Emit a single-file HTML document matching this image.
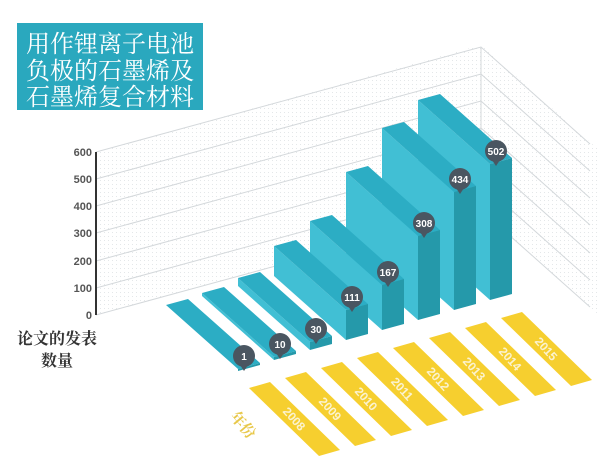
<!DOCTYPE html>
<html><head><meta charset="utf-8"><style>
html,body{margin:0;padding:0;background:#fff;}
svg{display:block;}
</style></head><body>
<svg width="600" height="471" viewBox="0 0 600 471" xmlns="http://www.w3.org/2000/svg">
<defs>
<pattern id="dots" width="4" height="4" patternUnits="userSpaceOnUse"><rect x="0" y="0" width="1" height="1" fill="#d8dde0"/></pattern>
</defs>
<!-- walls -->
<polygon points="96,152 481,45 481,210 96,315" fill="url(#dots)" opacity="0.7"/>
<polygon points="481,45 600,151 600,316 481,210" fill="url(#dots)" opacity="0.7"/>
<g fill="none" stroke="#d4d8db" stroke-width="1">
<polyline points="96,152 481,47 590,144"/>
<polyline points="96,179 481,74 590,171"/>
<polyline points="96,206 481,101 590,198"/>
<polyline points="96,233 481,128 590,225"/>
<polyline points="96,261 481,156 590,253"/>
<polyline points="96,288 481,183 590,280"/>
<polyline points="96,315 481,210 590,307"/>
<line x1="481" y1="47" x2="481" y2="210"/>
</g>
<line x1="96" y1="152" x2="96" y2="315" stroke="#333" stroke-width="2"/>
<g font-family="'Liberation Sans',sans-serif" font-size="11" font-weight="bold" fill="#555" text-anchor="end">
<text x="92" y="156">600</text>
<text x="92" y="183">500</text>
<text x="92" y="210">400</text>
<text x="92" y="237">300</text>
<text x="92" y="265">200</text>
<text x="92" y="292">100</text>
<text x="92" y="319">0</text>
</g>
<!-- bars (back to front) -->
<g>
<polygon points="418,100 490,164 490,300 418,236" fill="#41bfd4"/>
<polygon points="418,100 440,94 512,158 490,164" fill="#2cadc4"/>
<polygon points="490,164 512,158 512,294 490,300" fill="#2599aa"/>

<polygon points="382,128 454,192 454,310 382,246" fill="#41bfd4"/>
<polygon points="382,128 404,122 476,186 454,192" fill="#2cadc4"/>
<polygon points="454,192 476,186 476,304 454,310" fill="#2599aa"/>

<polygon points="346,172 418,236 418,320 346,256" fill="#41bfd4"/>
<polygon points="346,172 368,166 440,230 418,236" fill="#2cadc4"/>
<polygon points="418,236 440,230 440,314 418,320" fill="#2599aa"/>

<polygon points="310,221 382,285 382,330 310,266" fill="#41bfd4"/>
<polygon points="310,221 332,215 404,279 382,285" fill="#2cadc4"/>
<polygon points="382,285 404,279 404,324 382,330" fill="#2599aa"/>

<polygon points="274,246 346,310 346,340 274,276" fill="#41bfd4"/>
<polygon points="274,246 296,240 368,304 346,310" fill="#2cadc4"/>
<polygon points="346,310 368,304 368,334 346,340" fill="#2599aa"/>

<polygon points="238,278 310,342 310,350 238,286" fill="#41bfd4"/>
<polygon points="238,278 260,272 332,336 310,342" fill="#2cadc4"/>
<polygon points="310,342 332,336 332,344 310,350" fill="#2599aa"/>

<polygon points="202,293 274,357 274,360 202,296" fill="#41bfd4"/>
<polygon points="202,293 224,287 296,351 274,357" fill="#2cadc4"/>
<polygon points="274,357 296,351 296,354 274,360" fill="#2599aa"/>

<polygon points="166,305 188,299 260,363 238,369" fill="#2cadc4"/>
<polygon points="238,369 260,363 260,365 238,371" fill="#2599aa"/>
</g>
<!-- pins -->
<g fill="#4a5661">
<circle cx="244" cy="356" r="11"/><polygon points="240,365 248,365 244,371"/>
<circle cx="280" cy="344" r="11"/><polygon points="276,353 284,353 280,359"/>
<circle cx="316" cy="329" r="11"/><polygon points="312,338 320,338 316,344"/>
<circle cx="352" cy="297" r="11"/><polygon points="348,306 356,306 352,312"/>
<circle cx="388" cy="272" r="11"/><polygon points="384,281 392,281 388,287"/>
<circle cx="424" cy="223" r="11"/><polygon points="420,232 428,232 424,238"/>
<circle cx="460" cy="179" r="11"/><polygon points="456,188 464,188 460,194"/>
<circle cx="496" cy="151" r="11"/><polygon points="492,160 500,160 496,166"/>
</g>
<g font-family="'Liberation Sans',sans-serif" font-size="10" font-weight="bold" fill="#fff" text-anchor="middle">
<text x="244" y="360">1</text>
<text x="280" y="348">10</text>
<text x="316" y="333">30</text>
<text x="352" y="301">111</text>
<text x="388" y="276">167</text>
<text x="424" y="227">308</text>
<text x="460" y="183">434</text>
<text x="496" y="155">502</text>
</g>
<!-- year strips -->
<g fill="#f6cf2f">
<polygon points="249,388 270,382 340,450 319,456"/>
<polygon points="285,378 306,372 376,440 355,446"/>
<polygon points="321,368 342,362 412,430 391,436"/>
<polygon points="357,358 378,352 448,420 427,426"/>
<polygon points="393,348 414,342 484,410 463,416"/>
<polygon points="429,338 450,332 520,400 499,406"/>
<polygon points="465,328 486,322 556,390 535,396"/>
<polygon points="501,318 522,312 592,380 571,386"/>
</g>
<g font-family="'Liberation Sans',sans-serif" font-size="12" font-weight="bold" fill="#fbf3d0" text-anchor="middle">
<text transform="translate(294,419) rotate(48)" y="4">2008</text>
<text transform="translate(330,409) rotate(48)" y="4">2009</text>
<text transform="translate(366,399) rotate(48)" y="4">2010</text>
<text transform="translate(402,389) rotate(48)" y="4">2011</text>
<text transform="translate(438,379) rotate(48)" y="4">2012</text>
<text transform="translate(474,369) rotate(48)" y="4">2013</text>
<text transform="translate(510,359) rotate(48)" y="4">2014</text>
<text transform="translate(546,349) rotate(48)" y="4">2015</text>
</g>
<text transform="translate(243,425) rotate(50)" text-anchor="middle" y="5" font-family="'Liberation Serif','Noto Serif CJK SC',serif" font-size="15" font-weight="bold" fill="#e8c84a">年份</text>
<!-- y label -->
<g font-family="'Liberation Serif','Noto Serif CJK SC',serif" font-size="16" font-weight="bold" fill="#333" text-anchor="middle">
<text x="57" y="344">论文的发表</text>
<text x="57" y="366">数量</text>
</g>
<!-- title -->
<rect x="17" y="23" width="186" height="87" fill="#2aa8be"/>
<g font-family="'Liberation Serif','Noto Serif CJK SC',serif" font-size="24" fill="#fff" text-anchor="middle">
<text x="110" y="52">用作锂离子电池</text>
<text x="110" y="79">负极的石墨烯及</text>
<text x="110" y="105">石墨烯复合材料</text>
</g>
</svg>
</body></html>
